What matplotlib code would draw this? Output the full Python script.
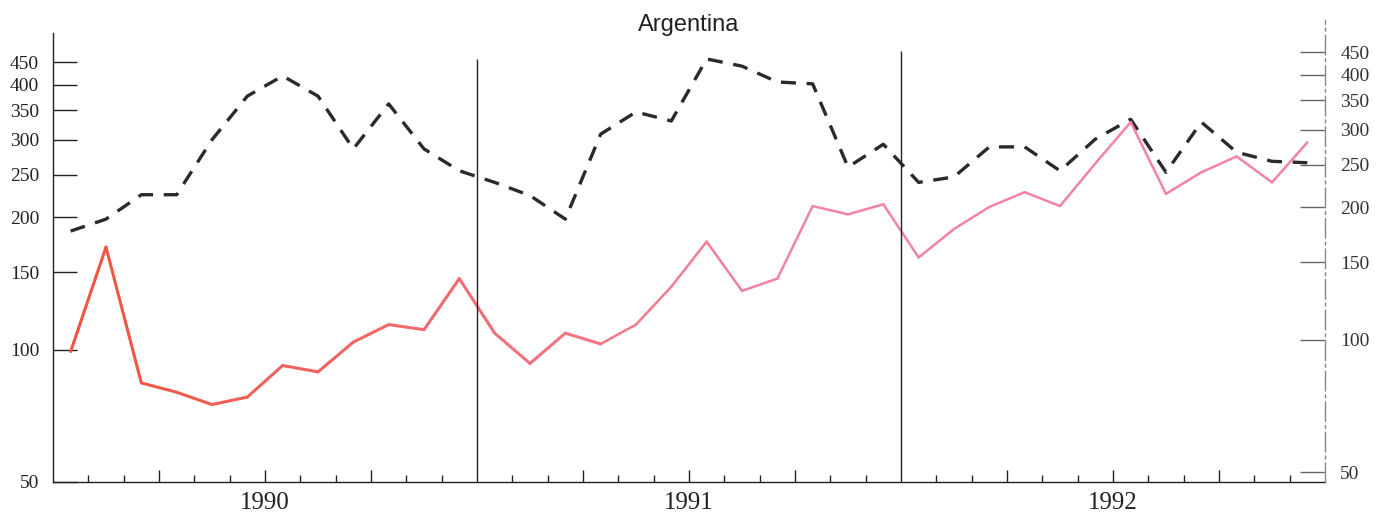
import matplotlib
matplotlib.use('Agg')
import matplotlib.pyplot as plt
import numpy as np
from matplotlib.collections import LineCollection
from matplotlib.colors import to_rgb
from matplotlib.ticker import FixedLocator, NullLocator, NullFormatter

# monthly values Jan 1990 - Dec 1992 (log scale)
years = ['1990', '1991', '1992']
pink_series = [99, 171, 84, 80, 75, 78, 92, 89, 104, 114, 111, 145,
               109, 93, 109, 103, 114, 139, 176, 136, 145, 212, 203, 214,
               162, 188, 211, 228, 212, 265, 329, 226, 253, 275, 240, 296]
dashed_series = [186, 198, 225, 225, 300, 377, 419, 377, 286, 362, 286, 255,
                 240, 224, 198, 309, 347, 331, 458, 441, 406, 402, 260, 293,
                 240, 247, 289, 289, 255, 301, 334, 253, 329, 281, 268, 266]
y_ticks = [50, 100, 150, 200, 250, 300, 350, 400, 450]

serif = 'Liberation Serif'

fig = plt.figure(figsize=(13.89, 5.17), dpi=100)
ax = fig.add_axes([53 / 1389, 35 / 517, 1272 / 1389, 462 / 517])

n = len(pink_series)
x = np.arange(n) + 0.5

# log scale, 50 at the bottom of the axes
ax.set_yscale('log')
ax.set_ylim(50, 561.6)
ax.set_xlim(0, n)

# dashed black series
ax.plot(x, dashed_series, color='#2a2a2a', lw=2.4, dashes=(4.5, 3.2))

# solid series, red-orange fading into pink
pts = np.column_stack([x, pink_series])
segs = np.stack([pts[:-1], pts[1:]], axis=1)
c0 = np.array(to_rgb('#ef5540'))
c1 = np.array(to_rgb('#f383a4'))
cols = []
for i in range(len(segs)):
    t = min(i / 20, 1.0)
    cols.append(c0 * (1 - t) + c1 * t)
lws = [2.2 if i < 15 else 1.8 for i in range(len(segs))]
ax.add_collection(LineCollection(segs, colors=cols, linewidths=lws, capstyle='round', joinstyle='round'))

# year boundaries
ax.vlines([12, 24], 50, [458, 478], color='#222222', lw=1)

# spines
ax.spines['top'].set_visible(False)
ax.spines['right'].set_visible(False)
ax.spines['left'].set_bounds(50, 524)
for s in ['left', 'bottom']:
    ax.spines[s].set_linewidth(1)
    ax.spines[s].set_color('#222222')

# left y axis
ax.yaxis.set_major_locator(FixedLocator(y_ticks))
ax.yaxis.set_minor_locator(NullLocator())
ax.yaxis.set_minor_formatter(NullFormatter())
ax.set_yticklabels([str(v) for v in y_ticks], fontsize=14, family=serif, color='#222222')
ax.tick_params(axis='y', direction='in', length=17, width=1, pad=10, color='#222222')

# x axis: month ticks, longer at quarters, year label mid-year
quarters = [q for q in range(3, n, 3) if q % 12 != 0]
months = [m for m in range(1, n) if m % 3 != 0]
ax.set_xticks(quarters)
ax.set_xticklabels([years[q // 12] if q % 12 == 6 else '' for q in quarters],
                   fontsize=18, family=serif, color='#222222')
ax.set_xticks(months, minor=True)
ax.tick_params(axis='x', which='major', direction='in', length=8.5, width=1, pad=7, color='#222222')
ax.tick_params(axis='x', which='minor', direction='in', length=5, width=1, color='#222222')

# right y axis, slightly shifted like the scan
ax2 = ax.twinx()
ax2.set_yscale('log')
ax2.set_ylim(47.45, 532.8)
for s in ['left', 'top', 'bottom']:
    ax2.spines[s].set_visible(False)
ax2.spines['right'].set_color('#888888')
ax2.spines['right'].set_linestyle((0, (14, 3, 2, 3)))
ax2.spines['right'].set_linewidth(1)
ax2.yaxis.set_major_locator(FixedLocator(y_ticks))
ax2.yaxis.set_minor_locator(NullLocator())
ax2.yaxis.set_minor_formatter(NullFormatter())
ax2.set_yticklabels([str(v) for v in y_ticks], fontsize=14, family=serif, color='#333333')
ax2.tick_params(axis='y', direction='in', length=18, width=1, pad=11, color='#666666')

fig.text(689 / 1389, 1 - 31 / 517, 'Argentina', ha='center', va='baseline',
         fontsize=17, family='Liberation Sans', color='#222222')

fig.savefig('out.png', dpi=100, facecolor='white')
